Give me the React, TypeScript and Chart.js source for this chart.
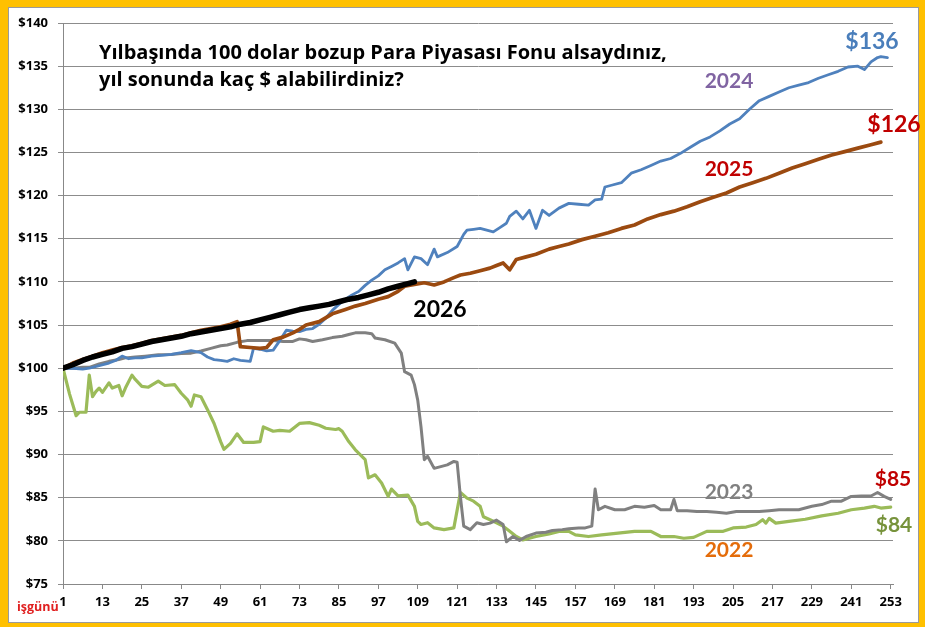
import { useEffect, useRef } from "react"
import { Chart, registerables, type ChartConfiguration, type Plugin } from "chart.js"

Chart.register(...registerables)

// x axis: iş günü (working day) ticks, y axis: dollar value ticks
const xTickDays = [1, 13, 25, 37, 49, 61, 73, 85, 97, 109, 121, 133, 145, 157, 169, 181, 193, 205, 217, 229, 241, 253]
const yTickValues = [75, 80, 85, 90, 95, 100, 105, 110, 115, 120, 125, 130, 135, 140]

// 2022 (green)
const days2022 = [1, 3, 5, 6, 8, 9, 10, 11, 12, 13, 15, 16, 18, 19, 20, 22, 23, 25, 27, 30, 32, 35, 37, 39, 40, 41, 43, 45, 47, 49, 50, 52, 54, 56, 59, 61, 62, 65, 67, 70, 73, 76, 79, 81, 84, 85, 86, 88, 90, 93, 94, 96, 98, 100, 101, 103, 106, 108, 109, 110, 112, 114, 117, 120, 122, 124, 126, 128, 129, 131, 133, 135, 137, 139, 141, 145, 149, 152, 155, 157, 161, 165, 170, 175, 180, 183, 187, 190, 193, 197, 202, 205, 209, 212, 214, 215, 216, 218, 222, 227, 232, 237, 241, 245, 248, 250, 253]
const values2022 = [100.0, 97.0, 94.5, 94.9, 94.9, 99.2, 96.7, 97.3, 97.7, 97.2, 98.3, 97.7, 98.0, 96.8, 97.7, 99.2, 98.7, 97.9, 97.8, 98.5, 98.0, 98.1, 97.1, 96.3, 95.6, 96.9, 96.7, 95.2, 93.6, 91.5, 90.6, 91.3, 92.4, 91.4, 91.4, 91.5, 93.2, 92.7, 92.8, 92.7, 93.6, 93.7, 93.4, 93.05, 92.9, 93.0, 92.7, 91.5, 90.55, 89.4, 87.3, 87.65, 86.7, 85.15, 86.0, 85.2, 85.3, 84.0, 82.25, 81.9, 82.1, 81.5, 81.3, 81.5, 85.6, 84.95, 84.6, 84.0, 82.8, 82.45, 82.1, 81.7, 81.1, 80.5, 80.1, 80.5, 80.8, 81.1, 81.1, 80.7, 80.5, 80.7, 80.9, 81.1, 81.1, 80.5, 80.5, 80.3, 80.4, 81.1, 81.1, 81.5, 81.6, 81.9, 82.45, 82.05, 82.6, 82.05, 82.25, 82.5, 82.9, 83.2, 83.6, 83.8, 84.0, 83.8, 83.9]

// 2023 (gray)
const days2023 = [1, 4, 7, 9, 12, 15, 18, 20, 23, 26, 30, 34, 37, 40, 43, 46, 49, 51, 54, 57, 60, 63, 65, 68, 71, 73, 75, 77, 80, 83, 86, 88, 90, 93, 95, 96, 99, 102, 104, 105, 107, 108, 109, 110, 111, 112, 114, 116, 118, 120, 121, 122, 123, 125, 127, 129, 131, 133, 135, 136, 138, 140, 142, 145, 148, 150, 153, 155, 158, 160, 162, 163, 164, 166, 169, 172, 175, 178, 181, 183, 186, 187, 188, 191, 194, 197, 200, 203, 206, 210, 213, 216, 219, 222, 225, 229, 232, 235, 238, 241, 244, 247, 249, 251, 253]
const values2023 = [100.0, 100.0, 100.1, 100.1, 100.5, 100.8, 101.0, 101.2, 101.3, 101.4, 101.55, 101.6, 101.7, 101.75, 102.0, 102.3, 102.6, 102.7, 103.0, 103.2, 103.2, 103.2, 103.2, 103.1, 103.1, 103.4, 103.3, 103.1, 103.3, 103.55, 103.7, 103.9, 104.1, 104.1, 104.0, 103.5, 103.3, 102.9, 101.75, 99.6, 99.2, 98.1, 96.3, 93.2, 89.4, 89.8, 88.4, 88.6, 88.8, 89.2, 89.1, 85.1, 81.7, 81.3, 82.1, 81.9, 82.05, 82.4, 81.9, 79.9, 80.5, 80.05, 80.5, 80.9, 81.0, 81.2, 81.3, 81.4, 81.5, 81.5, 81.7, 86.0, 83.6, 84.0, 83.6, 83.6, 84.0, 83.9, 84.1, 83.6, 83.6, 84.8, 83.5, 83.5, 83.4, 83.4, 83.3, 83.2, 83.4, 83.4, 83.4, 83.5, 83.6, 83.6, 83.6, 84.0, 84.2, 84.6, 84.6, 85.15, 85.2, 85.2, 85.6, 85.15, 84.8]

// 2024 (blue)
const days2024 = [1, 4, 7, 9, 12, 15, 17, 19, 21, 23, 25, 28, 31, 34, 37, 40, 43, 45, 47, 49, 51, 53, 55, 58, 59, 61, 63, 65, 67, 69, 71, 73, 75, 77, 79, 81, 83, 85, 87, 89, 91, 93, 95, 97, 99, 101, 103, 105, 106, 108, 110, 112, 114, 115, 118, 121, 123, 124, 126, 128, 130, 132, 134, 136, 137, 139, 141, 143, 145, 147, 149, 152, 155, 158, 161, 163, 165, 166, 168, 171, 174, 177, 180, 183, 186, 189, 192, 195, 198, 201, 204, 207, 210, 213, 216, 219, 222, 225, 228, 231, 234, 237, 240, 243, 245, 247, 249, 250, 252]
const values2024 = [100.0, 100.0, 99.9, 100.0, 100.3, 100.6, 100.9, 101.4, 101.1, 101.2, 101.2, 101.4, 101.5, 101.6, 101.8, 102.05, 101.8, 101.3, 101.0, 100.9, 100.8, 101.1, 100.9, 100.8, 102.3, 102.2, 102.0, 102.1, 103.2, 104.4, 104.3, 104.25, 104.5, 104.6, 105.1, 105.8, 106.7, 107.4, 108.0, 108.5, 108.9, 109.6, 110.2, 110.7, 111.4, 111.8, 112.2, 112.7, 111.4, 112.9, 112.7, 112.0, 113.8, 112.9, 113.4, 114.1, 115.5, 116.0, 116.1, 116.2, 116.0, 115.8, 116.3, 116.8, 117.6, 118.2, 117.3, 118.3, 116.2, 118.3, 117.7, 118.55, 119.1, 119.0, 118.9, 119.5, 119.6, 121.0, 121.2, 121.5, 122.6, 123.0, 123.5, 124.0, 124.3, 124.9, 125.6, 126.3, 126.8, 127.5, 128.3, 128.9, 130.0, 131.0, 131.5, 132.0, 132.5, 132.8, 133.1, 133.6, 134.0, 134.4, 134.9, 135.0, 134.6, 135.5, 136.0, 136.1, 136.0]

// 2025 (brown)
const days2025 = [1, 4, 7, 10, 13, 16, 19, 22, 25, 28, 31, 34, 37, 40, 43, 46, 49, 52, 54, 55, 58, 61, 63, 65, 68, 71, 73, 75, 79, 83, 87, 90, 93, 97, 100, 103, 105, 108, 111, 114, 117, 120, 122, 125, 128, 131, 133, 135, 137, 139, 142, 145, 149, 152, 155, 159, 163, 167, 171, 175, 179, 183, 187, 191, 195, 199, 203, 207, 211, 215, 219, 223, 227, 231, 235, 239, 243, 247, 250]
const values2025 = [100.0, 100.6, 101.0, 101.4, 101.8, 102.1, 102.4, 102.6, 102.9, 103.2, 103.4, 103.6, 103.8, 104.1, 104.4, 104.6, 104.8, 105.1, 105.4, 102.5, 102.4, 102.3, 102.4, 103.3, 103.6, 104.1, 104.5, 105.0, 105.4, 106.3, 106.8, 107.2, 107.5, 108.0, 108.3, 108.9, 109.5, 109.7, 109.9, 109.65, 110.0, 110.5, 110.8, 111.0, 111.3, 111.6, 111.9, 112.2, 111.4, 112.6, 112.9, 113.2, 113.8, 114.1, 114.4, 114.9, 115.3, 115.7, 116.2, 116.6, 117.3, 117.8, 118.2, 118.7, 119.3, 119.8, 120.3, 121.0, 121.5, 122.0, 122.6, 123.2, 123.7, 124.2, 124.7, 125.1, 125.5, 125.9, 126.2]

// 2026 (black, year to date)
const days2026 = [1, 4, 7, 10, 13, 16, 19, 22, 25, 28, 31, 34, 37, 40, 43, 46, 49, 52, 55, 58, 61, 64, 67, 70, 73, 76, 79, 82, 85, 88, 91, 94, 97, 100, 103, 106, 108]
const values2026 = [100.0, 100.4, 100.9, 101.3, 101.6, 101.9, 102.3, 102.5, 102.8, 103.1, 103.3, 103.5, 103.7, 104.0, 104.2, 104.4, 104.6, 104.8, 105.1, 105.3, 105.6, 105.9, 106.2, 106.5, 106.8, 107.0, 107.2, 107.4, 107.7, 108.0, 108.2, 108.5, 108.8, 109.2, 109.5, 109.8, 110.0]

const toPoints = (days: number[], values: number[]) => days.map((d, i) => ({ x: d, y: values[i] }))

const tickFont = { family: "Open Sans", size: 13, weight: "bold" as const }

// Title and series labels, drawn on top of the chart
const textLabelsPlugin: Plugin<"line"> = {
  id: "textLabels",
  afterDraw(chart) {
    const ctx = chart.ctx
    ctx.save()
    ctx.fillStyle = "#000"
    ctx.textAlign = "left"
    ctx.textBaseline = "alphabetic"
    ctx.font = "bold 20px 'Open Sans'"
    ctx.fillText("Yılbaşında 100 dolar bozup Para Piyasası Fonu alsaydınız,", 99, 59)
    ctx.fillText("yıl sonunda kaç $ alabilirdiniz?", 99, 86)

    const labels: Array<[string, number, number, string, number]> = [
      ["$136", 872, 42, "#4A7EBB", 23],
      ["2024", 729, 81, "#8064A2", 21],
      ["$126", 894, 125, "#C00000", 23],
      ["2025", 729, 169, "#C00000", 21],
      ["2026", 440, 310, "#000000", 23],
      ["2023", 729, 492, "#808080", 21],
      ["$85", 893, 479, "#C00000", 21],
      ["$84", 894, 525, "#77933C", 21],
      ["2022", 729, 550, "#E46C0A", 21],
    ]
    ctx.textAlign = "center"
    ctx.textBaseline = "middle"
    for (const [text, x, y, color, size] of labels) {
      ctx.font = `bold ${size}px Lato`
      ctx.fillStyle = color
      ctx.fillText(text, x, y)
    }

    ctx.font = "bold 12.5px 'Open Sans'"
    ctx.fillStyle = "#E02020"
    ctx.textAlign = "left"
    ctx.fillText("işgünü", 17, 607)
    ctx.restore()
  },
}

function FundChart() {
  const canvasRef = useRef<HTMLCanvasElement>(null)
  const chartRef = useRef<Chart | null>(null)

  useEffect(() => {
    if (!canvasRef.current) return
    if (chartRef.current) chartRef.current.destroy()

    const config: ChartConfiguration<"line"> = {
      type: "line",
      data: {
        // first dataset is drawn on top
        datasets: [
          { label: "2026", data: toPoints(days2026, values2026), borderColor: "#000000", borderWidth: 5.5 },
          { label: "2025", data: toPoints(days2025, values2025), borderColor: "#9B4A10", borderWidth: 3.7 },
          { label: "2024", data: toPoints(days2024, values2024), borderColor: "#4F81BD", borderWidth: 2.8 },
          { label: "2023", data: toPoints(days2023, values2023), borderColor: "#808080", borderWidth: 3 },
          { label: "2022", data: toPoints(days2022, values2022), borderColor: "#9BBB59", borderWidth: 3.2 },
        ],
      },
      options: {
        animation: false,
        responsive: true,
        maintainAspectRatio: false,
        layout: { padding: { top: 23, right: 32, bottom: 0, left: 0 } },
        elements: {
          point: { radius: 0 },
          line: { tension: 0, borderJoinStyle: "round", borderCapStyle: "round" },
        },
        plugins: {
          legend: { display: false },
          tooltip: { enabled: false },
        },
        scales: {
          x: {
            type: "linear",
            min: 1,
            max: 253.7,
            afterBuildTicks: (scale) => {
              scale.ticks = xTickDays.map((v) => ({ value: v }))
            },
            afterFit: (scale) => {
              scale.height = 43
            },
            ticks: {
              autoSkip: false,
              maxRotation: 0,
              padding: 5,
              color: "#000",
              font: tickFont,
              callback: (v) => String(v),
            },
            grid: { drawOnChartArea: false, drawTicks: true, tickLength: 5, color: "#888" },
            border: { color: "#888" },
          },
          y: {
            min: 75,
            max: 140,
            afterBuildTicks: (scale) => {
              scale.ticks = yTickValues.map((v) => ({ value: v }))
            },
            afterFit: (scale) => {
              scale.width = 63
            },
            ticks: {
              padding: 10,
              color: "#000",
              font: tickFont,
              callback: (v) => `$${v}`,
            },
            grid: { color: "#8c8c8c", tickLength: 5 },
            border: { color: "#888" },
          },
        },
      },
      plugins: [textLabelsPlugin],
    }

    chartRef.current = new Chart(canvasRef.current, config)

    return () => {
      if (chartRef.current) {
        chartRef.current.destroy()
        chartRef.current = null
      }
    }
  }, [])

  return (
    <div style={{ position: "absolute", left: 0, top: 0, width: 925, height: 627 }}>
      <canvas ref={canvasRef} />
    </div>
  )
}

export default function App() {
  return (
    <div style={{ position: "absolute", left: 0, top: 0, width: 925, height: 627, background: "#FFC000" }}>
      <div
        style={{
          position: "absolute",
          left: 8,
          top: 7,
          width: 911,
          height: 616,
          background: "#fff",
          border: "1px solid #9a9a9a",
          boxSizing: "border-box",
        }}
      />
      <FundChart />
    </div>
  )
}
